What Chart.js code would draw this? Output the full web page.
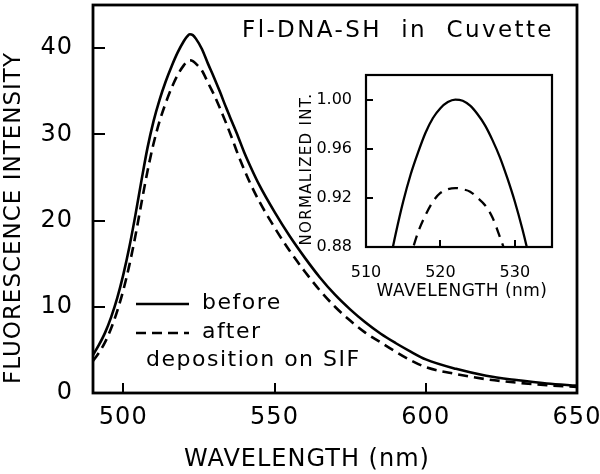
<!DOCTYPE html>
<html><head><meta charset="utf-8">
<script src="https://cdn.jsdelivr.net/npm/chart.js@4.4.1/dist/chart.umd.min.js"></script>
<style>
html,body{margin:0;padding:0;background:#fff;}
#wrap{position:relative;width:600px;height:474px;background:#fff;}
#main{position:absolute;left:0;top:0;}
#inset{position:absolute;left:290px;top:65px;}
</style></head><body>
<div id="wrap">
<canvas id="main" width="600" height="474"></canvas>
<canvas id="inset" width="275" height="240"></canvas>
</div>
<script>
// ---- main spectrum data ----
const wavelengths = [490,492,494,496,498,500,502,504,506,508,510,512,514,516,518,520,521,522,523,524,526,528,530,532,534,536,538,540,542,545,550,555,560,565,570,575,580,585,590,595,600,610,620,630,640,650];
const before      = [4.4,5.6,7.0,8.8,11.0,13.7,16.9,20.6,24.6,28.4,31.5,34.0,36.1,37.9,39.5,40.8,41.3,41.6,41.5,41.1,39.9,38.2,36.6,34.9,33.1,31.4,29.7,27.9,26.3,24.1,21.0,18.2,15.7,13.4,11.4,9.7,8.2,6.9,5.8,4.8,3.9,2.8,2.0,1.5,1.1,0.85];
const after       = [3.7,4.7,5.9,7.5,9.5,11.9,14.8,18.2,22.0,25.7,28.9,31.5,33.6,35.4,36.9,38.0,38.4,38.6,38.5,38.2,37.4,36.0,34.6,33.0,31.3,29.5,27.6,25.9,24.3,22.2,19.2,16.5,14.1,11.9,10.0,8.4,7.0,5.9,4.8,3.8,3.0,2.2,1.6,1.2,0.9,0.7];
const xTicks = [500,550,600,650];
const yTicks = [0,10,20,30,40];
const seriesLabels = ['before','after'];
const legendNote = 'deposition on SIF';
const titleText = 'Fl-DNA-SH  in  Cuvette';
const xTitle = 'WAVELENGTH (nm)';
const yTitle = 'FLUORESCENCE INTENSITY';

// ---- inset (normalized) data ----
const insetWlBefore = [512,513,514,515,516,517,518,519,520,521,522,523,524,525,526,527,528,529,530,531,532,533];
const insetBefore   = [0.835,0.862,0.891,0.917,0.939,0.957,0.973,0.985,0.993,0.998,1.000,0.999,0.995,0.988,0.979,0.967,0.953,0.936,0.917,0.895,0.870,0.843];
const insetWlAfter  = [515,516,517,518,519,520,521,522,523,524,525,526,527,528,529,530];
const insetAfter    = [0.855,0.873,0.892,0.906,0.917,0.924,0.927,0.928,0.927,0.925,0.920,0.914,0.904,0.888,0.870,0.845];
const insetXTicks = [510,520,530];
const insetYTicks = [0.88,0.92,0.96,1.00];
const insetXTitle = 'WAVELENGTH (nm)';
const insetYTitle = 'NORMALIZED INT.';

const FONT = 'DejaVu Sans';

const frameTicks = {
  id: 'frameTicks',
  afterDatasetsDraw(chart, args, o) {
    const {ctx, chartArea: a, scales: {x, y}} = chart;
    ctx.save();
    ctx.strokeStyle = '#000';
    ctx.lineWidth = o.tickWidth;
    x.ticks.forEach(t => {
      const px = Math.round(x.getPixelForValue(t.value));
      ctx.beginPath(); ctx.moveTo(px, a.bottom); ctx.lineTo(px, a.bottom - o.xLen); ctx.stroke();
    });
    y.ticks.forEach(t => {
      const py = Math.round(y.getPixelForValue(t.value));
      ctx.beginPath(); ctx.moveTo(a.left, py); ctx.lineTo(a.left + o.yLen, py); ctx.stroke();
    });
    ctx.lineWidth = o.frameWidth;
    ctx.strokeRect(a.left, a.top, a.right - a.left, a.bottom - a.top);
    ctx.restore();
  }
};

// text items: axis titles, in-plot title, legend
const texts = {
  id: 'texts',
  beforeDraw(chart, args, o) {
    try { chart.ctx.letterSpacing = (o.baseLs || 0) + 'px'; } catch (e) {}
  },
  afterDraw(chart, args, o) {
    const ctx = chart.ctx;
    ctx.save();
    ctx.fillStyle = '#000';
    ctx.textBaseline = 'middle';
    (o.items || []).forEach(it => {
      ctx.save();
      try { ctx.letterSpacing = (it.ls || 0) + 'px'; } catch (e) {}
      ctx.font = it.size + 'px "' + FONT + '"';
      ctx.textAlign = it.align || 'center';
      ctx.translate(it.x, it.y);
      if (it.rot) ctx.rotate(it.rot);
      ctx.fillText(it.text, 0, 0);
      ctx.restore();
    });
    if (o.legend) {
      const L = o.legend;
      try { ctx.letterSpacing = L.ls + 'px'; } catch (e) {}
      ctx.font = L.size + 'px "' + FONT + '"';
      ctx.textAlign = 'left';
      chart.data.datasets.forEach((ds, i) => {
        const yy = L.rows[i];
        ctx.save();
        ctx.strokeStyle = ds.borderColor;
        ctx.lineWidth = ds.borderWidth;
        ctx.setLineDash(ds.borderDash || []);
        ctx.beginPath(); ctx.moveTo(L.x0, yy); ctx.lineTo(L.x1, yy); ctx.stroke();
        ctx.restore();
        ctx.fillText(ds.label, L.tx, yy - 1);
      });
      ctx.fillText(L.note, L.noteX, L.noteY);
    }
    ctx.restore();
  }
};

function fixAxis(width, height) {
  return s => {
    if (width != null) s.width = width;
    if (height != null) s.height = height;
    s.paddingTop = 0; s.paddingBottom = 0; s.paddingLeft = 0; s.paddingRight = 0;
  };
}
function setTicks(list) {
  return s => { s.ticks = list.map(v => ({value: v})); };
}

new Chart(document.getElementById('main'), {
  type: 'line',
  data: {
    datasets: [
      {label: seriesLabels[0], data: wavelengths.map((w, i) => ({x: w, y: before[i]})),
       borderColor: '#000', borderWidth: 2.6, pointRadius: 0, fill: false,
       cubicInterpolationMode: 'monotone'},
      {label: seriesLabels[1], data: wavelengths.map((w, i) => ({x: w, y: after[i]})),
       borderColor: '#000', borderWidth: 2.6, borderDash: [10, 6], pointRadius: 0, fill: false,
       cubicInterpolationMode: 'monotone'}
    ]
  },
  options: {
    responsive: false, animation: false, devicePixelRatio: 1,
    layout: {padding: {left: 0, top: 5, right: 23, bottom: 0}},
    plugins: {legend: {display: false}, tooltip: {enabled: false},
      frameTicks: {tickWidth: 2, xLen: 10, yLen: 12, frameWidth: 2.8},
      texts: {
        baseLs: 1,
        items: [
          {text: titleText, x: 242, y: 31, size: 23, ls: 2.4, align: 'left'},
          {text: xTitle, x: 307, y: 460, size: 24, ls: 1},
          {text: yTitle, x: 14, y: 218, size: 23, ls: 1, rot: -Math.PI / 2}
        ],
        legend: {rows: [304, 333], x0: 136, x1: 189, tx: 202, size: 22, ls: 1.5,
                 note: legendNote, noteX: 146, noteY: 360}
      }},
    scales: {
      x: {type: 'linear', min: 490, max: 650,
        grid: {display: false}, border: {display: false},
        afterBuildTicks: setTicks(xTicks), afterFit: fixAxis(null, 81),
        ticks: {font: {family: FONT, size: 24}, color: '#000', padding: 2, maxRotation: 0},
        title: {display: false, text: xTitle}
      },
      y: {type: 'linear', min: 0, max: 45,
        grid: {display: false}, border: {display: false},
        afterBuildTicks: setTicks(yTicks), afterFit: fixAxis(93, null),
        ticks: {font: {family: FONT, size: 24}, color: '#000', padding: 12},
        title: {display: false, text: yTitle}
      }
    }
  },
  plugins: [frameTicks, texts]
});

new Chart(document.getElementById('inset'), {
  type: 'line',
  data: {
    datasets: [
      {label: seriesLabels[0], data: insetWlBefore.map((w, i) => ({x: w, y: insetBefore[i]})),
       borderColor: '#000', borderWidth: 2.3, pointRadius: 0, fill: false, cubicInterpolationMode: 'monotone'},
      {label: seriesLabels[1], data: insetWlAfter.map((w, i) => ({x: w, y: insetAfter[i]})),
       borderColor: '#000', borderWidth: 2.3, borderDash: [10, 7], pointRadius: 0, fill: false, cubicInterpolationMode: 'monotone'}
    ]
  },
  options: {
    responsive: false, animation: false, devicePixelRatio: 1,
    layout: {padding: {left: 0, top: 10, right: 13, bottom: 0}},
    plugins: {legend: {display: false}, tooltip: {enabled: false},
      frameTicks: {tickWidth: 2, xLen: 7, yLen: 7, frameWidth: 2.2},
      texts: {
        baseLs: 0,
        items: [
          {text: insetXTitle, x: 172, y: 227, size: 17, ls: 0.5},
          {text: insetYTitle, x: 17, y: 104, size: 15, ls: 1.3, rot: -Math.PI / 2}
        ]
      }},
    scales: {
      x: {type: 'linear', min: 510, max: 535,
        grid: {display: false}, border: {display: false},
        afterBuildTicks: setTicks(insetXTicks), afterFit: fixAxis(null, 58),
        ticks: {font: {family: FONT, size: 16}, color: '#000', padding: 8, maxRotation: 0},
        title: {display: false, text: insetXTitle}
      },
      y: {type: 'linear', min: 0.88, max: 1.02,
        grid: {display: false}, border: {display: false},
        afterBuildTicks: setTicks(insetYTicks), afterFit: fixAxis(76, null),
        ticks: {font: {family: FONT, size: 16}, color: '#000', padding: 6, callback: v => v.toFixed(2)},
        title: {display: false, text: insetYTitle}
      }
    }
  },
  plugins: [frameTicks, texts]
});
</script>
</body></html>
